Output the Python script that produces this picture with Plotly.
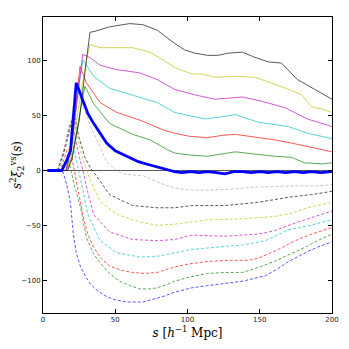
import plotly.graph_objects as go

# ---------------- data ----------------
# solid curves
s_blue_thick = [3, 13, 16, 19, 23, 27, 31, 35, 40, 44, 50, 58, 66, 74, 82, 91, 96, 102, 108, 114, 120, 126, 132, 138, 144, 150, 156, 162, 168, 174, 180, 186, 192, 200]
v_blue_thick = [0, 0, 8, 18, 80, 65, 52, 43, 33, 25, 18, 13, 8, 5, 2, -1, -2, -1, -2, -1, -2, -3, -1, -1, -2, -1, -2, -1, -2, -1, -2, -1, -2, -1]

s_green = [3, 16, 20, 25, 29, 35, 46, 62, 74, 86, 91, 102, 114, 133, 147, 160, 172, 181, 193, 200]
v_green = [0, 0, 12, 50, 77, 61, 43, 33, 28, 19, 16, 14, 13, 17, 15, 13, 12, 7, 6, 7]

s_red = [3, 16, 20, 25.6, 30, 39.5, 51, 69, 83, 91, 102, 114, 124, 133, 149, 160, 172, 186, 200]
v_red = [0, 0, 25, 95, 80, 62, 53, 45, 37, 34, 31, 30, 32, 33, 30, 28, 25, 21, 17]

s_cyan = [3, 16, 20, 25, 27.7, 35, 46, 62, 79, 91, 102, 112, 124, 133, 149, 160, 170, 183, 200]
v_cyan = [0, 0, 25, 80, 101, 86, 75, 69, 62, 53, 50, 47, 49, 51, 44, 42, 40, 34, 29]

s_magenta = [3, 16, 20, 25, 27.5, 32.5, 39.5, 51, 67, 79, 91, 105, 119, 138, 152, 168, 183, 200]
v_magenta = [0, 0, 25, 80, 106, 103, 96, 92, 89, 83, 74, 69, 65, 67, 63, 57, 47, 40]

s_yellow = [3, 17, 20, 25, 30, 32.5, 39.5, 62, 74, 83, 91, 103, 110, 119, 133, 147, 158, 170, 179, 186, 193, 200]
v_yellow = [0, 0, 20, 60, 100, 115, 112, 112, 108, 101, 94, 88, 88, 85, 86, 85, 80, 74, 69, 58, 56, 53]

s_black = [3, 17, 20, 25, 30, 32.5, 36, 46, 60, 69, 79, 86, 91, 98, 105, 114, 121, 128, 138, 145, 156, 165, 176, 188, 200]
v_black = [0, 0, 10, 45, 100, 126, 127, 131, 134, 133, 128, 121, 116, 110, 107, 105, 105, 107, 108, 104, 99, 98, 83, 74, 65]

# dashed curves
s_blue_d = [3, 12, 14, 15, 17, 19, 21, 23, 26, 30, 33, 38, 44, 50, 58, 69, 83, 91, 103, 114, 126, 138, 154, 162, 170, 177, 183, 190, 200]
v_blue_d = [0, 0, -2, -6, -16, -30, -58, -75, -88, -98, -104, -110, -115, -118, -120, -120, -115, -111, -107, -105, -103, -101, -96, -90, -83, -78, -74, -70, -65]

s_green_d = [3, 10, 14, 17, 19, 20, 22, 24, 26, 30, 35, 40, 46, 53, 60, 67, 74, 79, 86, 91, 102, 114, 126, 138, 150, 160, 170, 178, 183, 190, 200]
v_green_d = [0, 0, 5, 12, 2, -4, -15, -24, -34, -61, -76, -85, -94, -101, -105, -108, -108, -107, -104, -101, -97, -94, -93, -93, -88, -83, -77, -72, -69, -64, -58]

s_red_d = [3, 10, 14, 17, 19, 22, 25, 28, 31, 35, 40, 46, 54, 62, 70, 79, 91, 102, 114, 128, 142, 149, 156, 163, 170, 178, 186, 193, 200]
v_red_d = [0, 0, 8, 20, 18, -2, -22, -43, -58, -70, -80, -87, -91, -93, -94, -93, -88, -85, -83, -82, -82, -80, -76, -72, -67, -62, -58, -55, -52]

s_cyan_d = [3, 10, 14, 17, 19, 22, 25, 28, 31, 39.5, 51, 67, 81, 91, 103, 120, 138, 154, 170, 185, 200]
v_cyan_d = [0, 0, 12, 30, 35, 15, -2, -20, -40, -64, -75, -79, -78, -75, -72, -70, -68, -64, -54, -50, -45]

s_magenta_d = [3, 10, 14, 18, 20, 23, 26, 28, 31, 35, 46, 62, 79, 91, 103, 126, 149, 160, 172, 186, 200]
v_magenta_d = [0, 0, 15, 40, 46, 25, 8, -2, -20, -40, -56, -63, -64, -63, -59, -60, -58, -55, -49, -43, -37]

s_yellow_d = [3, 10, 15, 19, 21, 24, 27, 31, 35, 39.5, 51, 67, 79, 91, 114, 138, 160, 172, 183, 200]
v_yellow_d = [0, 0, 18, 42, 46, 30, 13, -3, -16, -28, -40, -47, -50, -49, -45, -44, -42, -39, -34, -29]

s_black_d = [3, 10, 15, 20, 22, 25, 29, 33, 37, 46, 62, 79, 91, 103, 126, 149, 172, 186, 200]
v_black_d = [0, 0, 20, 45, 48, 30, 12, 2, -5, -22, -32, -34, -34, -32, -32, -29, -24, -22, -19]

s_gray_d = [3, 10, 16, 22, 25, 28, 33, 40, 44, 50, 55, 62, 70, 80, 91, 103, 114, 130, 149, 175, 190, 200]
v_gray_d = [0, 0, 25, 60, 68, 58, 40, 20, 8, 1, -3, -4, -5, -11, -16, -18, -18, -17, -15, -14, -14, -13]

x_ticks = [0, 50, 100, 150, 200]
y_ticks = [-100, -50, 0, 50, 100]

# ---------------- figure ----------------
fig = go.Figure()

dashed = [
    (s_blue_d, v_blue_d, "#0000ff"),
    (s_green_d, v_green_d, "#008000"),
    (s_red_d, v_red_d, "#ff0000"),
    (s_cyan_d, v_cyan_d, "#00bfbf"),
    (s_magenta_d, v_magenta_d, "#bf00bf"),
    (s_yellow_d, v_yellow_d, "#bfbf00"),
    (s_black_d, v_black_d, "#000000"),
    (s_gray_d, v_gray_d, "#a8a8a8"),
]
for s, v, c in dashed:
    fig.add_trace(go.Scatter(x=s, y=v, mode="lines", opacity=0.65,
                             line=dict(color=c, width=1, dash="3px,2px")))

solid = [
    (s_green, v_green, "#008000"),
    (s_red, v_red, "#ff0000"),
    (s_cyan, v_cyan, "#00bfbf"),
    (s_magenta, v_magenta, "#bf00bf"),
    (s_yellow, v_yellow, "#bfbf00"),
    (s_black, v_black, "#000000"),
]
for s, v, c in solid:
    fig.add_trace(go.Scatter(x=s, y=v, mode="lines", opacity=0.65,
                             line=dict(color=c, width=1)))

fig.add_trace(go.Scatter(x=s_blue_thick, y=v_blue_thick, mode="lines",
                         line=dict(color="#0000ff", width=2.8)))

fig.add_hline(y=0, line=dict(color="#555555", width=1), layer="below")

axis_common = dict(
    showgrid=False, zeroline=False, showline=True, linecolor="black", linewidth=1,
    mirror="allticks", ticks="inside", ticklen=4, tickwidth=0.8, tickcolor="black",
    tickfont=dict(family="DejaVu Sans", size=7, color="#222222"),
    automargin=False,
)

# the page body adds an 8px margin, so the figure is 8px smaller and shifted
fig.update_layout(
    width=341, height=341,
    margin=dict(l=35, r=17, t=9, b=36, autoexpand=False),
    paper_bgcolor="white", plot_bgcolor="white",
    showlegend=False,
    xaxis=dict(range=[0, 200], tickvals=x_ticks, **axis_common,
               title=dict(text="<i>s</i> [<i>h</i><sup>−1</sup> Mpc]",
                          font=dict(family="DejaVu Serif", size=12, color="black"),
                          standoff=2)),
    yaxis=dict(range=[-130, 140], tickvals=y_ticks, **axis_common,
               title=dict(text="<i>s</i><sup>2</sup><i>ξ</i><sub>2</sub><sup>vs</sup>(<i>s</i>)",
                          font=dict(family="DejaVu Serif", size=12, color="black"),
                          standoff=4)),
)

fig.write_html("out.html")
